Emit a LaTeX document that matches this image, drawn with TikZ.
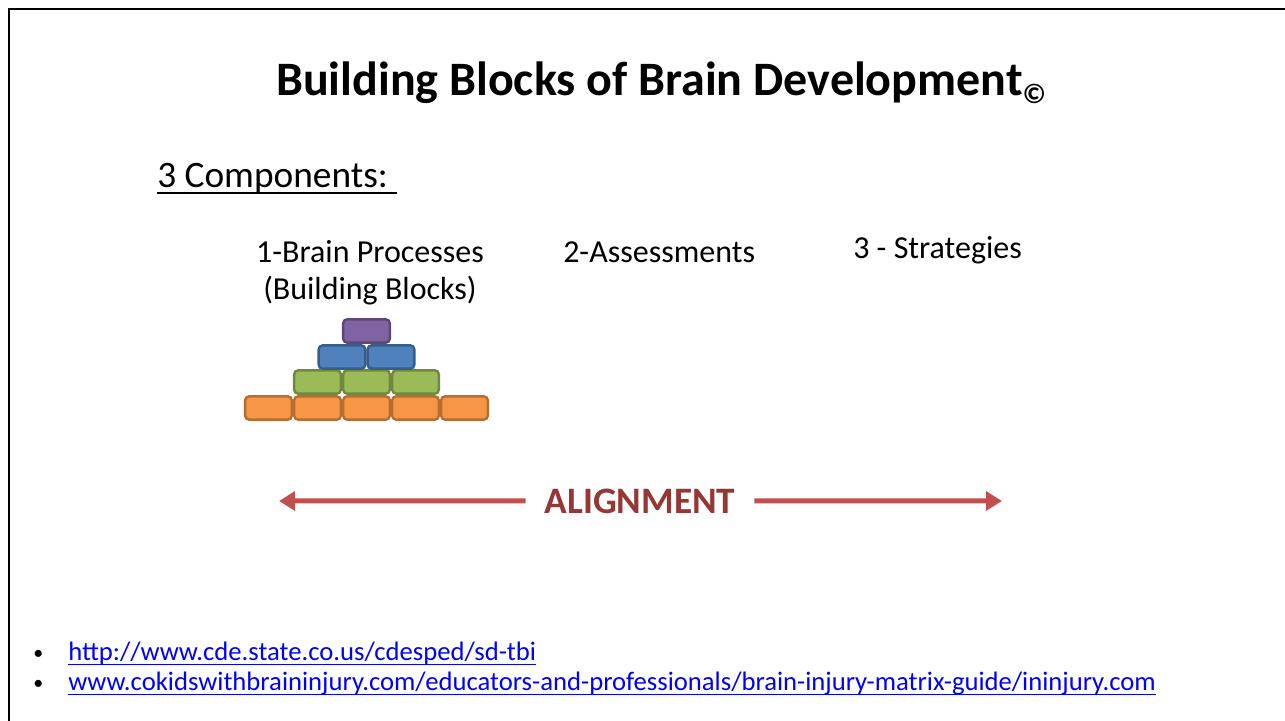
\documentclass[tikz,border=0pt]{standalone}
\usepackage{fontspec}
\setmainfont{Carlito}
\usetikzlibrary{arrows.meta}

\definecolor{orangefill}{HTML}{F79646}
\definecolor{orangeline}{HTML}{B66D31}
\definecolor{greenfill}{HTML}{9BBB59}
\definecolor{greenline}{HTML}{71893F}
\definecolor{bluefill}{HTML}{4F81BD}
\definecolor{blueline}{HTML}{385D8A}
\definecolor{purplefill}{HTML}{8064A2}
\definecolor{purpleline}{HTML}{5C4776}
\definecolor{arrowred}{HTML}{C0504D}
\definecolor{textred}{HTML}{953735}
\definecolor{linkblue}{HTML}{0000FF}

\tikzset{
  block/.style={draw, rounded corners=3pt, line width=1.8pt, minimum width=35pt, minimum height=17.5pt, inner sep=0pt},
  orangeblock/.style={block, fill=orangefill, draw=orangeline},
  greenblock/.style={block, fill=greenfill, draw=greenline},
  blueblock/.style={block, fill=bluefill, draw=blueline},
  purpleblock/.style={block, fill=purplefill, draw=purpleline},
  label/.style={inner sep=0pt, font=\fontsize{24}{29}\selectfont},
  link/.style={inner sep=0pt, text=linkblue, font=\fontsize{20}{24}\selectfont},
  bullet/.style={inner sep=0pt, font=\fontsize{15}{18}\selectfont},
  alignarrow/.style={draw=arrowred, line width=3.75pt, -{Triangle[length=12pt,width=14pt]}}
}

\begin{document}
\begin{tikzpicture}[x=0.75pt,y=-0.75pt]
\useasboundingbox (0,0) rectangle (1285,721);
\fill[white] (0,0) rectangle (1285,721);
\draw[line width=2pt] (1285,9) -- (9,9) -- (9,721);

% title
\node[anchor=base, inner sep=0pt, font=\bfseries\fontsize{36}{43}\selectfont] (title) at (661,95)
  {Building Blocks of Brain Development\raisebox{-6pt}{\fontsize{21}{21}\selectfont\textcopyright}};

\node[anchor=base west, inner sep=0pt, font=\fontsize{28}{34}\selectfont] (comp) at (157,187) {3 Components:~\null};
\draw[line width=1.4pt] ([yshift=-4.5pt]comp.base west) -- ([yshift=-4.5pt]comp.base east);

% the three components
\node[label, anchor=base] (procs) at (370,262) {1-Brain Processes};
\node[label, anchor=base] (blocks) at (370,299) {(Building Blocks)};
\node[label, anchor=base west] (assess) at (563,262) {2-Assessments};
\node[label, anchor=base west] (strat) at (853,258) {3 - Strategies};

% pyramid of blocks
\node[orangeblock] (o1) at (268.5,408) {};
\node[orangeblock] (o2) at (317.5,408) {};
\node[orangeblock] (o3) at (366.5,408) {};
\node[orangeblock] (o4) at (415.5,408) {};
\node[orangeblock] (o5) at (464.5,408) {};
\node[greenblock] (g1) at (317.5,382) {};
\node[greenblock] (g2) at (366.5,382) {};
\node[greenblock] (g3) at (415.5,382) {};
\node[blueblock] (b1) at (342,357) {};
\node[blueblock] (b2) at (391,357) {};
\node[purpleblock] (p1) at (366.5,331) {};

% alignment
\node[anchor=base, inner xsep=14pt, inner ysep=0pt, text=textred, font=\bfseries\fontsize{28}{34}\selectfont] (align) at (640,513) {ALIGNMENT};
\coordinate (lefttip) at (279,501);
\coordinate (righttip) at (1002,501);
\path[alignarrow] (align.west) -- (lefttip);
\path[alignarrow] (align.east) -- (righttip);

% references
\node[bullet, anchor=base west] (dot1) at (33,659) {\textbullet};
\node[bullet, anchor=base west] (dot2) at (33,689) {\textbullet};
\node[link, anchor=base west] (link1) at (68,660) {http://www.cde.state.co.us/cdesped/sd-tbi};
\node[link, anchor=base west] (link2) at (68,690) {www.cokidswithbraininjury.com/educators-and-professionals/brain-injury-matrix-guide/ininjury.com};
\draw[linkblue, line width=1.1pt] ([yshift=-3.5pt]link1.base west) -- ([yshift=-3.5pt]link1.base east);
\draw[linkblue, line width=1.1pt] ([yshift=-3.5pt]link2.base west) -- ([yshift=-3.5pt]link2.base east);
\end{tikzpicture}
\end{document}
